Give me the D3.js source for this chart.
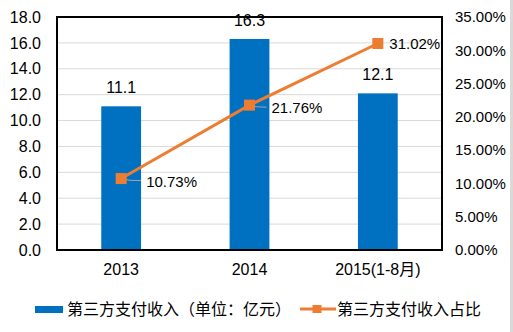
<!DOCTYPE html>
<html>
<head>
<meta charset="utf-8">
<script src="https://cdn.jsdelivr.net/npm/d3@7/dist/d3.min.js"></script>
<style>
  html, body { margin: 0; padding: 0; background: #fff; }
  svg { display: block; }
  text { font-family: "Liberation Sans", Arial, "Noto Sans CJK SC", sans-serif; fill: #000; }
  .cjk { font-family: "Noto Sans CJK SC", "Liberation Sans", sans-serif; }
</style>
</head>
<body>
<svg id="chart" width="513" height="332"></svg>
<script>
// Categories and series
const categories = ["2013", "2014", "2015(1-8月)"];
const revenue = [11.1, 16.3, 12.1];          // 第三方支付收入（亿元）
const share = [10.73, 21.76, 31.02];         // 收入占比（%）
const leftTicks = [0, 2, 4, 6, 8, 10, 12, 14, 16, 18];
const rightTicks = [0, 5, 10, 15, 20, 25, 30, 35];
const seriesNames = ["第三方支付收入（单位：亿元）", "第三方支付收入占比"];

const W = 513, H = 332;
const plot = { left: 57, right: 442, top: 17, bottom: 250 };
const blue = "#0070C0", orange = "#ED7D31";

const svg = d3.select("#chart");

const x = d3.scaleBand().domain(categories)
  .range([plot.left, plot.right]).paddingInner(0.69).paddingOuter(0.345);
const yL = d3.scaleLinear().domain([0, 18]).range([plot.bottom, plot.top]);
const yR = d3.scaleLinear().domain([0, 35]).range([plot.bottom, plot.top]);
const cx = c => x(c) + x.bandwidth() / 2;

// grey strip along the right edge of the chart frame
svg.append("rect").attr("x", 510).attr("y", 0).attr("width", 3).attr("height", H).attr("fill", "#D9D9D9");

// horizontal gridlines
svg.append("g").selectAll("line").data(leftTicks).join("line")
  .attr("x1", plot.left).attr("x2", plot.right)
  .attr("y1", d => yL(d)).attr("y2", d => yL(d))
  .attr("stroke", "#D9D9D9").attr("stroke-width", 1);

// left axis labels
const axL = svg.append("g").attr("transform", `translate(${plot.left},0)`)
  .call(d3.axisLeft(yL).tickValues(leftTicks).tickFormat(d3.format(".1f")).tickSize(0).tickPadding(16));
axL.select(".domain").remove();
axL.selectAll("text").attr("font-size", 16).attr("font-family", null);

// right axis labels
const axR = svg.append("g").attr("transform", `translate(${plot.right},0)`)
  .call(d3.axisRight(yR).tickValues(rightTicks).tickFormat(d => d3.format(".2f")(d) + "%").tickSize(0).tickPadding(13));
axR.select(".domain").remove();
axR.selectAll("text").attr("font-size", 15).attr("font-family", null);

// category labels
const axB = svg.append("g").attr("transform", `translate(0,${plot.bottom})`)
  .call(d3.axisBottom(x).tickSize(0).tickPadding(14));
axB.select(".domain").remove();
axB.selectAll("text").attr("font-size", 16).attr("font-family", null);

// revenue bars
svg.append("g").selectAll("rect").data(revenue).join("rect")
  .attr("x", (d, i) => x(categories[i]))
  .attr("width", x.bandwidth())
  .attr("y", d => yL(d))
  .attr("height", d => yL(0) - yL(d))
  .attr("fill", blue);

// bar value labels
svg.append("g").selectAll("text").data(revenue).join("text")
  .attr("x", (d, i) => cx(categories[i]))
  .attr("y", d => yL(d) - 13.5)
  .attr("text-anchor", "middle")
  .attr("font-size", 16)
  .text(d => d3.format(".1f")(d));

// plot frame
svg.append("rect")
  .attr("x", plot.left).attr("y", plot.top)
  .attr("width", plot.right - plot.left).attr("height", plot.bottom - plot.top)
  .attr("fill", "none").attr("stroke", "#000").attr("stroke-width", 2);

// share line
const pts = share.map((v, i) => [cx(categories[i]), yR(v)]);
svg.append("path").datum(pts)
  .attr("d", d3.line())
  .attr("fill", "none").attr("stroke", orange).attr("stroke-width", 3);

// leader lines and percentage labels
const labelShift = [[25, 3], [22, 2.5], [11.5, 0.5]];
svg.append("g").selectAll("path").data(pts.slice(0, 2)).join("path")
  .attr("d", (p, i) => `M${p[0]},${p[1]} Q${p[0] + 8},${p[1] + 2.5} ${p[0] + labelShift[i][0] - 5},${p[1] + 2}`)
  .attr("fill", "none").attr("stroke", "#A6A6A6").attr("stroke-width", 1);

svg.append("g").selectAll("rect").data(pts).join("rect")
  .attr("x", p => p[0] - 5.5).attr("y", p => p[1] - 5.5)
  .attr("width", 11).attr("height", 11).attr("fill", orange);

svg.append("g").selectAll("text").data(share).join("text")
  .attr("x", (d, i) => pts[i][0] + labelShift[i][0])
  .attr("y", (d, i) => pts[i][1] + labelShift[i][1])
  .attr("dy", "0.35em")
  .attr("font-size", 15)
  .text(d => d3.format(".2f")(d) + "%");

// legend
const lg = svg.append("g");
lg.append("rect").attr("x", 35).attr("y", 306).attr("width", 28).attr("height", 7).attr("fill", blue);
lg.append("text").attr("class", "cjk").attr("x", 67).attr("y", 309.5).attr("dy", "0.35em")
  .attr("font-size", 16).text(seriesNames[0]);
lg.append("line").attr("x1", 300).attr("x2", 336).attr("y1", 309).attr("y2", 309)
  .attr("stroke", orange).attr("stroke-width", 3);
lg.append("rect").attr("x", 312.5).attr("y", 305).attr("width", 9).attr("height", 8).attr("fill", orange);
lg.append("text").attr("class", "cjk").attr("x", 337).attr("y", 309.5).attr("dy", "0.35em")
  .attr("font-size", 16).text(seriesNames[1]);
</script>
</body>
</html>
